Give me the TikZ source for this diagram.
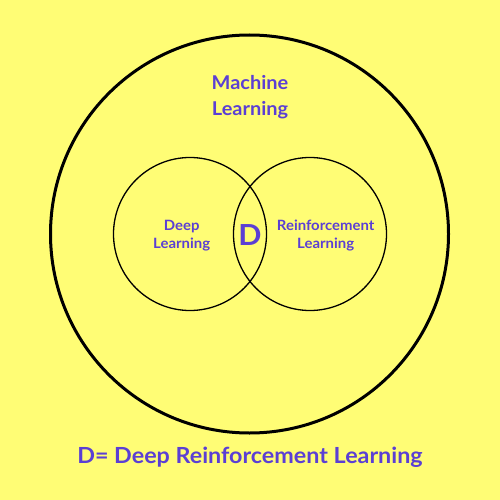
\documentclass[tikz,border=0pt]{standalone}
\usepackage{fontspec}
\setmainfont{Lato}[FakeStretch=1.05]
\definecolor{bgyellow}{HTML}{FFFD75}
\definecolor{txtpurple}{HTML}{5B3FD4}
\begin{document}
\begin{tikzpicture}[x=1pt,y=-1pt,
  lbl/.style={text=txtpurple, align=center, inner sep=0pt},
  ring/.style={circle, draw=black, inner sep=0pt}]
\fill[bgyellow] (0,0) rectangle (500,500);
\useasboundingbox (0,0) rectangle (500,500);
\node[ring, line width=3pt, minimum size=398pt] (ml) at (249.5,234) {};
\node[ring, line width=1.3pt, minimum size=153pt] (dl) at (190,234) {};
\node[ring, line width=1.3pt, minimum size=153pt] (rl) at (310,234) {};
\node[lbl, font=\bfseries\fontsize{19}{26}\selectfont] (mlt) at (250,97) {Machine\\Learning};
\node[lbl, font=\bfseries\fontsize{14.2}{18}\selectfont] (dlt) at (181.7,235.5) {Deep\\Learning};
\node[lbl, font=\bfseries\fontsize{14.2}{18}\selectfont] (rlt) at (325.7,235.5) {Reinforcement\\Learning};
\node[lbl, font=\bfseries\fontsize{29}{30}\selectfont] (d) at (250,235.5) {D};
\node[lbl, font=\bfseries\fontsize{22.2}{26}\selectfont, anchor=base] (drl) at (250,463) {D= Deep Reinforcement Learning};
\end{tikzpicture}
\end{document}
